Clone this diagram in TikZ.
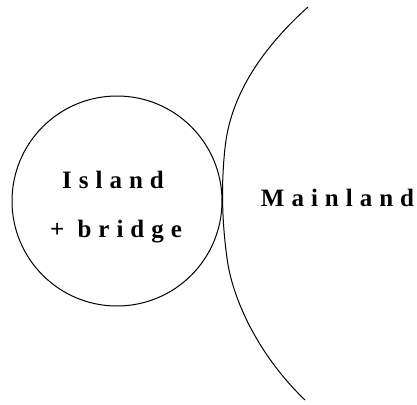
\documentclass[tikz,border=0pt]{standalone}
\usepackage{fontspec}
\setmainfont{Liberation Serif}
\newfontfamily\lblfont[LetterSpace=28]{Liberation Serif Bold}
\newcommand{\notrail}{\hspace{-7pt}}
\tikzset{
  land/.style={draw=black, line width=1pt},
  lbl/.style={font=\lblfont\fontsize{25}{30}\selectfont, anchor=base, inner sep=0pt}
}
\begin{document}
\begin{tikzpicture}[x=1pt,y=-1pt]
\useasboundingbox (0,0) rectangle (417,404);
\node[land, circle, minimum size=210pt, inner sep=0pt] (island) at (117,201) {};
\coordinate (top) at (308,7);
\coordinate (k1) at (225,148);
\coordinate (k2) at (227,258);
\coordinate (bot) at (305,400);
\draw[land] (top) .. controls (258,52) and (230,99) .. (k1)
  .. controls (221,185) and (222,222) .. (k2)
  .. controls (232,298) and (258,355) .. (bot);
\node[lbl] (t1) at (113,188) {Island\notrail};
\node[lbl] (t2) at (116,237) {+ bridge\notrail};
\node[lbl] (t3) at (337.5,206) {Mainland\notrail};
\end{tikzpicture}
\end{document}
